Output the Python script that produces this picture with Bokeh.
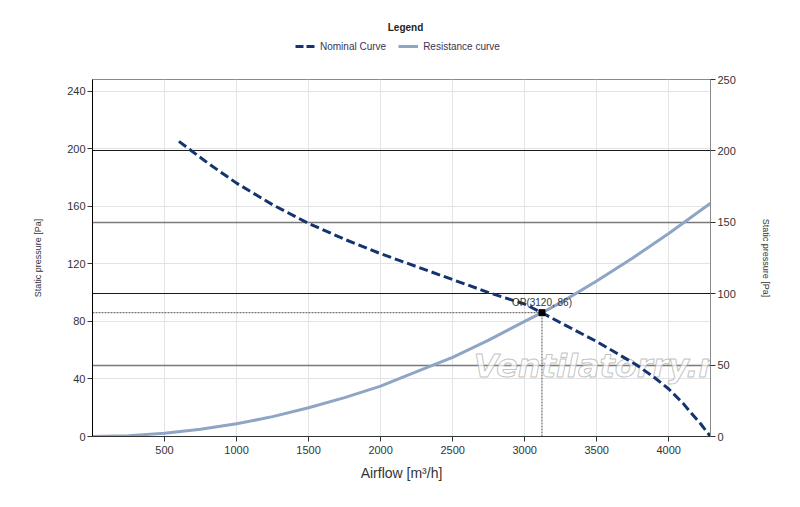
from bokeh.plotting import figure
from bokeh.layouts import column
from bokeh.models import (Range1d, LinearAxis, FixedTicker, Legend, LegendItem,
                          Grid, Label)
from bokeh.core.properties import value
from bokeh.embed import file_html
from bokeh.resources import INLINE

# ---- data ----
nominal_q = [600, 800, 1000, 1250, 1500, 1750, 2000, 2250, 2500, 2750, 3000, 3120,
             3250, 3500, 3772, 3900, 4000, 4100, 4150, 4220, 4290]
nominal_p = [205, 190, 176, 161, 148, 137, 127, 118, 109, 100, 92, 86,
             79, 66, 50, 41, 33, 23, 17, 9, 0]

resist_q = [0, 250, 500, 750, 1000, 1250, 1500, 1750, 2000, 2250, 2500, 2750,
            3000, 3120, 3250, 3500, 3750, 4000, 4290]
resist_p = [0, 0.6, 2.2, 5, 8.8, 13.8, 20, 27, 35, 45, 55, 67,
            80, 86, 93, 108, 124, 141, 162]

op_q = [3120]
op_p = [86]
op_label = ["OP(3120, 86)"]

x_ticks = [500, 1000, 1500, 2000, 2500, 3000, 3500, 4000]
left_ticks = [0, 40, 80, 120, 160, 200, 240]
right_ticks = [0, 50, 100, 150, 200, 250]
right_dark = [100, 200]
right_mid = [50, 150]

series_names = ["Nominal Curve", "Resistance curve"]
legend_title = "Legend"
watermark = ["Ventilatorry.ru"]

FONT = "Liberation Sans"
NOM_COLOR = "#15336e"
RES_COLOR = "#8ea5c5"

# ---------------- legend strip (top) ----------------
# same x range as the chart; curves fall outside its y range, only the legend shows
lg = figure(width=800, height=56, output_backend="svg", toolbar_location=None,
            x_axis_location=None, y_axis_location=None,
            x_range=Range1d(0, 4290), y_range=Range1d(1000, 1001), min_border=0)
lg.outline_line_color = None
lg.xgrid.visible = False
lg.ygrid.visible = False
ln_nom = lg.line(nominal_q, nominal_p, line_color=NOM_COLOR, line_width=3,
                 line_dash="8 3")
ln_res = lg.line(resist_q, resist_p, line_color=RES_COLOR, line_width=3)
legend = Legend(items=[LegendItem(label=series_names[0], renderers=[ln_nom]),
                       LegendItem(label=series_names[1], renderers=[ln_res])],
                orientation="horizontal", location=(203, 4))
legend.label_text_font = FONT
legend.label_text_font_size = "10px"
legend.label_text_color = "#3a3550"
legend.glyph_width = 20
legend.glyph_height = 12
legend.label_height = 12
legend.label_standoff = 5
legend.spacing = 12
legend.padding = 2
legend.margin = 0
legend.border_line_color = None
legend.background_fill_alpha = 0
lg.add_layout(legend, "center")
lg.add_layout(Label(x=313, y=29, x_units="screen", y_units="screen",
                    text=legend_title, text_align="center", text_baseline="middle",
                    text_font=FONT, text_font_size="10px", text_font_style="bold",
                    text_color="#222222"))

# ---------------- main chart ----------------
p = figure(width=800, height=444, output_backend="svg", toolbar_location=None,
           x_range=Range1d(0, 4290), y_range=Range1d(0, 248),
           min_border_left=92, min_border_right=90, min_border_top=23,
           min_border_bottom=64)
p.background_fill_color = "white"
p.border_fill_color = "white"
p.outline_line_color = "#8a8a8a"
p.outline_line_width = 1

p.extra_y_ranges = {"right": Range1d(0, 250)}

p.xgrid.ticker = FixedTicker(ticks=x_ticks)
p.ygrid.ticker = FixedTicker(ticks=left_ticks)
p.xgrid.grid_line_color = "#e3e3e3"
p.ygrid.grid_line_color = "#e3e3e3"

g1 = Grid(dimension=1, ticker=FixedTicker(ticks=right_dark), y_range_name="right",
          grid_line_color="#1a1a1a", grid_line_width=1)
g2 = Grid(dimension=1, ticker=FixedTicker(ticks=right_mid), y_range_name="right",
          grid_line_color="#7a7a7a", grid_line_width=1.6)
p.add_layout(g1)
p.add_layout(g2)


def style_axis(ax):
    ax.major_label_text_font = FONT
    ax.major_label_text_font_size = "11px"
    ax.major_label_text_color = "#333333"
    ax.axis_label_text_font = FONT
    ax.axis_label_text_font_style = "normal"
    ax.axis_label_text_color = "#333333"
    ax.minor_tick_line_color = None
    ax.major_tick_out = 5
    ax.major_tick_in = 0
    ax.major_tick_line_color = "#333333"
    ax.major_label_standoff = 2


xa = p.xaxis[0]
xa.ticker = FixedTicker(ticks=x_ticks)
xa.axis_label = "Airflow [m³/h]"
style_axis(xa)
xa.major_label_standoff = 4
xa.axis_label_text_font_size = "14px"
xa.axis_label_standoff = 8
xa.axis_line_color = "#333333"

ya = p.yaxis[0]
ya.ticker = FixedTicker(ticks=left_ticks)
ya.axis_label = "Static pressure [Pa]"
style_axis(ya)
ya.axis_label_text_font_size = "9px"
ya.axis_label_standoff = 21
ya.axis_line_color = "black"

yr = LinearAxis(y_range_name="right", ticker=FixedTicker(ticks=right_ticks),
                axis_label="Static pressure [Pa]")
style_axis(yr)
yr.axis_label_text_font_size = "9px"
yr.axis_label_standoff = 22
yr.axis_line_color = "#8a8a8a"
p.add_layout(yr, "right")

# OP guide lines
p.line(x=[0, op_q[0]], y=[op_p[0], op_p[0]], line_color="#555555", line_width=1,
       line_dash="2 1")
p.line(x=[op_q[0], op_q[0]], y=[0, op_p[0]], line_color="#555555", line_width=1,
       line_dash="2 1")

# watermark
p.text(x=[3560], y=[49], text=watermark, text_align="center",
       text_baseline="alphabetic", text_font=value("DejaVu Sans"),
       text_font_size="32px", text_font_style="bold italic",
       text_color="white", text_alpha=0.7,
       text_outline_color="#a8a8a8")

# curves
p.line(resist_q, resist_p, line_color=RES_COLOR, line_width=3)
p.line(nominal_q, nominal_p, line_color=NOM_COLOR, line_width=3, line_dash="9 4")

# operating point
p.scatter(op_q, op_p, marker="square", size=6, fill_color="black",
          line_color="black")
p.text(x=op_q, y=op_p, text=op_label, text_align="center",
       text_baseline="bottom", y_offset=-5, text_font=value(FONT),
       text_font_size="10px", text_color="#333333")

layout = column(lg, p, spacing=0)
open("out.html", "w").write(file_html(layout, INLINE))
